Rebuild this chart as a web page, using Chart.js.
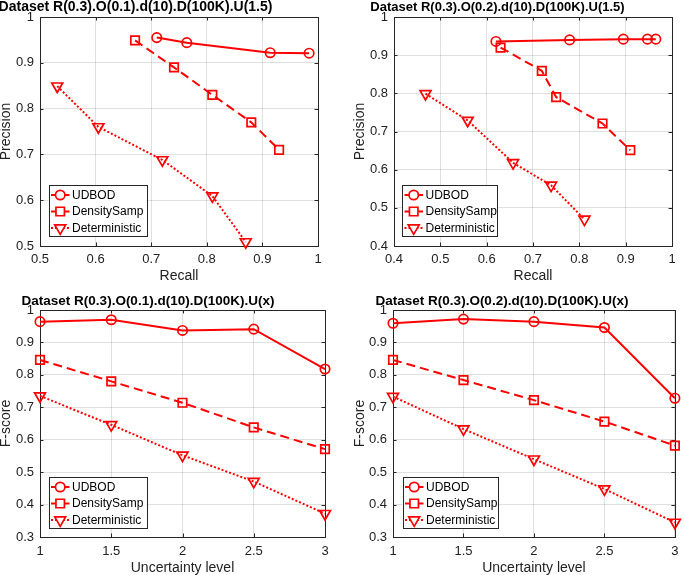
<!DOCTYPE html>
<html>
<head>
<meta charset="utf-8">
<script src="https://cdn.jsdelivr.net/npm/chart.js@4.4.0/dist/chart.umd.min.js"></script>
<style>
  body { margin: 0; background: #fff; width: 685px; height: 575px; position: relative; overflow: hidden; }
  .panel { position: absolute; }
</style>
</head>
<body>
<div class="panel" style="left:0;top:0"><canvas id="prO1" width="340" height="285"></canvas></div>
<div class="panel" style="left:340px;top:0"><canvas id="prO2" width="345" height="285"></canvas></div>
<div class="panel" style="left:0;top:285px"><canvas id="fsO1" width="340" height="290"></canvas></div>
<div class="panel" style="left:340px;top:285px"><canvas id="fsO2" width="345" height="290"></canvas></div>
<script>
const seriesNames = ['UDBOD', 'DensitySamp', 'Deterministic'];

// Precision vs recall, O(0.1)
const recallO1Udbod = [0.710, 0.764, 0.914, 0.984];
const precO1Udbod = [0.955, 0.944, 0.922, 0.921];
const recallO1Dens = [0.671, 0.741, 0.810, 0.880, 0.930];
const precO1Dens = [0.949, 0.890, 0.830, 0.770, 0.710];
const recallO1Det = [0.531, 0.605, 0.720, 0.810, 0.870];
const precO1Det = [0.849, 0.760, 0.688, 0.609, 0.509];

// Precision vs recall, O(0.2)
const recallO2Udbod = [0.620, 0.779, 0.895, 0.947, 0.965];
const precO2Udbod = [0.936, 0.940, 0.942, 0.942, 0.942];
const recallO2Dens = [0.630, 0.719, 0.750, 0.850, 0.910];
const precO2Dens = [0.920, 0.859, 0.790, 0.721, 0.651];
const recallO2Det = [0.468, 0.559, 0.657, 0.739, 0.811];
const precO2Det = [0.799, 0.729, 0.618, 0.559, 0.470];

// F-score vs uncertainty level
const uncertaintyLevels = [1, 1.5, 2, 2.5, 3];
const fscoreO1Udbod = [0.964, 0.970, 0.937, 0.941, 0.818];
const fscoreO1Dens = [0.846, 0.780, 0.714, 0.638, 0.571];
const fscoreO1Det = [0.735, 0.646, 0.552, 0.471, 0.372];
const fscoreO2Udbod = [0.959, 0.972, 0.964, 0.946, 0.728];
const fscoreO2Dens = [0.846, 0.784, 0.722, 0.656, 0.582];
const fscoreO2Det = [0.733, 0.633, 0.540, 0.448, 0.345];

// tick values
const ticksO1Recall = [0.5, 0.6, 0.7, 0.8, 0.9, 1];
const ticksO1Prec = [0.5, 0.6, 0.7, 0.8, 0.9, 1];
const ticksO2Recall = [0.4, 0.5, 0.6, 0.7, 0.8, 0.9, 1];
const ticksO2Prec = [0.4, 0.5, 0.6, 0.7, 0.8, 0.9, 1];
const ticksLevel = [1, 1.5, 2, 2.5, 3];
const ticksFscore = [0.3, 0.4, 0.5, 0.6, 0.7, 0.8, 0.9, 1];

const RED = '#ff0000';
const AXIS = '#262626';
const GRID = 'rgba(0, 0, 0, 0.12)';
const FONT = "'Liberation Sans', Arial, Helvetica, sans-serif";

const seriesStyles = [
  { pointStyle: 'circle', pointRadius: 4.7, pointRotation: 0, borderDash: [] },
  { pointStyle: 'rect', pointRadius: 6, pointRotation: 0, borderDash: [9, 5] },
  { pointStyle: 'triangle', pointRadius: 6.3, pointRotation: 180, borderDash: [2, 2] }
];

function toPoints(xs, ys) {
  return xs.map((x, i) => ({ x: x, y: ys[i] }));
}

// closed box with small inward ticks, matlab style
const axesBox = {
  id: 'axesBox',
  beforeDatasetsDraw(chart) {
    const { ctx, chartArea: a, scales } = chart;
    ctx.save();
    ctx.strokeStyle = AXIS;
    ctx.lineWidth = 1;
    ctx.strokeRect(Math.round(a.left) + 0.5, Math.round(a.top) + 0.5, Math.round(a.right - a.left), Math.round(a.bottom - a.top));
    ctx.beginPath();
    scales.x.ticks.forEach(t => {
      const px = Math.round(scales.x.getPixelForValue(t.value)) + 0.5;
      ctx.moveTo(px, a.bottom); ctx.lineTo(px, a.bottom - 3.5);
      ctx.moveTo(px, a.top); ctx.lineTo(px, a.top + 3.5);
    });
    scales.y.ticks.forEach(t => {
      const py = Math.round(scales.y.getPixelForValue(t.value)) + 0.5;
      ctx.moveTo(a.left, py); ctx.lineTo(a.left + 3.5, py);
      ctx.moveTo(a.right, py); ctx.lineTo(a.right - 3.5, py);
    });
    ctx.stroke();
    ctx.restore();
  }
};

// legend box in lower-left corner of the axes
const boxLegend = {
  id: 'boxLegend',
  afterDraw(chart, args, opts) {
    const { ctx, chartArea: a } = chart;
    const w = opts.width, h = 51;
    const left = a.left + opts.gapLeft;
    const top = a.bottom - opts.gapBottom - h;
    ctx.save();
    ctx.fillStyle = '#fff';
    ctx.fillRect(left, top, w, h);
    ctx.strokeStyle = AXIS;
    ctx.lineWidth = 1;
    ctx.strokeRect(Math.round(left) + 0.5, Math.round(top) + 0.5, w, h);
    ctx.font = '12px ' + FONT;
    ctx.textBaseline = 'middle';
    ctx.textAlign = 'left';
    chart.data.datasets.forEach((ds, i) => {
      const y = top + 10 + i * 16.5;
      ctx.strokeStyle = ds.borderColor;
      ctx.lineWidth = ds.borderWidth;
      ctx.setLineDash(ds.borderDash);
      ctx.beginPath();
      ctx.moveTo(left + 2.5, y);
      ctx.lineTo(left + 21, y);
      ctx.stroke();
      ctx.setLineDash([]);
      ctx.lineWidth = ds.pointBorderWidth;
      ctx.fillStyle = '#fff';
      Chart.helpers.drawPoint(ctx, {
        pointStyle: ds.pointStyle,
        rotation: ds.pointRotation,
        radius: ds.pointRadius,
        borderWidth: ds.pointBorderWidth
      }, left + 11.7, y);
      ctx.fillStyle = '#000';
      ctx.fillText(ds.label, left + 23.5, y + 0.5);
    });
    ctx.restore();
  }
};

// bold title above each axes
const panelTitle = {
  id: 'panelTitle',
  afterDraw(chart, args, opts) {
    const ctx = chart.ctx;
    ctx.save();
    ctx.font = 'bold ' + opts.size + 'px ' + FONT;
    ctx.fillStyle = '#000';
    ctx.textAlign = 'center';
    ctx.textBaseline = 'middle';
    ctx.fillText(opts.text, opts.x, opts.y);
    ctx.restore();
  }
};

function createPanel(id, p) {
  const ctx = document.getElementById(id).getContext('2d');

  return new Chart(ctx, {
    type: 'line',
    data: {
      datasets: p.series.map((s, i) => ({
        label: seriesNames[i],
        data: toPoints(s[0], s[1]),
        borderColor: RED,
        backgroundColor: 'transparent',
        borderWidth: 2,
        borderDash: seriesStyles[i].borderDash,
        pointStyle: seriesStyles[i].pointStyle,
        pointRadius: seriesStyles[i].pointRadius,
        pointRotation: seriesStyles[i].pointRotation,
        pointBorderWidth: 1.7,
        pointBorderColor: RED,
        pointBackgroundColor: 'transparent',
        tension: 0,
        fill: false,
        clip: false
      }))
    },
    options: {
      responsive: false,
      animation: false,
      events: [],
      layout: {
        padding: { left: 0, right: p.padRight, top: p.padTop, bottom: 0 }
      },
      plugins: {
        legend: { display: false },
        tooltip: { enabled: false },
        panelTitle: p.title,
        boxLegend: p.legend
      },
      scales: {
        x: {
          type: 'linear',
          min: p.xTicks[0],
          max: p.xTicks[p.xTicks.length - 1],
          afterBuildTicks: function(scale) {
            scale.ticks = p.xTicks.map(v => ({ value: v }));
          },
          afterFit: function(scale) {
            scale.height = p.xAxisHeight;
          },
          grid: { color: GRID, drawTicks: false },
          border: { color: AXIS, width: 1 },
          ticks: {
            autoSkip: false,
            maxRotation: 0,
            padding: p.xTickPad,
            color: '#222',
            font: { size: 13, family: FONT },
            callback: function(value) { return String(value); }
          },
          title: {
            display: true,
            text: p.xTitle,
            color: '#222',
            font: { size: 14, family: FONT },
            padding: { top: 0, bottom: p.xTitlePad }
          }
        },
        y: {
          type: 'linear',
          min: p.yTicks[0],
          max: p.yTicks[p.yTicks.length - 1],
          afterBuildTicks: function(scale) {
            scale.ticks = p.yTicks.map(v => ({ value: v }));
          },
          afterFit: function(scale) {
            scale.width = p.yAxisWidth;
          },
          grid: { color: GRID, drawTicks: false },
          border: { color: AXIS, width: 1 },
          ticks: {
            autoSkip: false,
            padding: 6,
            color: '#222',
            font: { size: 13, family: FONT },
            callback: function(value) { return String(value); }
          },
          title: {
            display: true,
            text: p.yTitle,
            color: '#222',
            font: { size: 14, family: FONT },
            padding: { top: p.yTitlePad, bottom: 0 }
          }
        }
      }
    },
    plugins: [axesBox, boxLegend, panelTitle]
  });
}

document.addEventListener('DOMContentLoaded', function() {
  createPanel('prO1', {
    series: [[recallO1Udbod, precO1Udbod], [recallO1Dens, precO1Dens], [recallO1Det, precO1Det]],
    xTicks: ticksO1Recall, yTicks: ticksO1Prec,
    xTitle: 'Recall', yTitle: 'Precision',
    padTop: 17, padRight: 22, yAxisWidth: 40, xAxisHeight: 39,
    xTickPad: 6, xTitlePad: 0.6, yTitlePad: -2,
    title: { text: 'Dataset R(0.3).O(0.1).d(10).D(100K).U(1.5)', x: 135.5, y: 7, size: 14 },
    legend: { gapLeft: 8.5, gapBottom: 10, width: 98 }
  });

  createPanel('prO2', {
    series: [[recallO2Udbod, precO2Udbod], [recallO2Dens, precO2Dens], [recallO2Det, precO2Det]],
    xTicks: ticksO2Recall, yTicks: ticksO2Prec,
    xTitle: 'Recall', yTitle: 'Precision',
    padTop: 17, padRight: 13, yAxisWidth: 54, xAxisHeight: 39,
    xTickPad: 6, xTitlePad: 0.6, yTitlePad: 11.6,
    title: { text: 'Dataset R(0.3).O(0.2).d(10).D(100K).U(1.5)', x: 157.5, y: 7, size: 13 },
    legend: { gapLeft: 8, gapBottom: 10, width: 95 }
  });

  createPanel('fsO1', {
    series: [[uncertaintyLevels, fscoreO1Udbod], [uncertaintyLevels, fscoreO1Dens], [uncertaintyLevels, fscoreO1Det]],
    xTicks: ticksLevel, yTicks: ticksFscore,
    xTitle: 'Uncertainty level', yTitle: 'F-score',
    padTop: 25, padRight: 15, yAxisWidth: 40, xAxisHeight: 38,
    xTickPad: 6.5, xTitlePad: -1.4, yTitlePad: -2,
    title: { text: 'Dataset R(0.3).O(0.1).d(10).D(100K).U(x)', x: 148, y: 16, size: 13.5 },
    legend: { gapLeft: 8.5, gapBottom: 9, width: 98 }
  });

  createPanel('fsO2', {
    series: [[uncertaintyLevels, fscoreO2Udbod], [uncertaintyLevels, fscoreO2Dens], [uncertaintyLevels, fscoreO2Det]],
    xTicks: ticksLevel, yTicks: ticksFscore,
    xTitle: 'Uncertainty level', yTitle: 'F-score',
    padTop: 25, padRight: 6, yAxisWidth: 53, xAxisHeight: 38,
    xTickPad: 6.5, xTitlePad: -1.4, yTitlePad: 11.6,
    title: { text: 'Dataset R(0.3).O(0.2).d(10).D(100K).U(x)', x: 162, y: 16, size: 13.5 },
    legend: { gapLeft: 9.5, gapBottom: 9, width: 95 }
  });
});
</script>
</body>
</html>
